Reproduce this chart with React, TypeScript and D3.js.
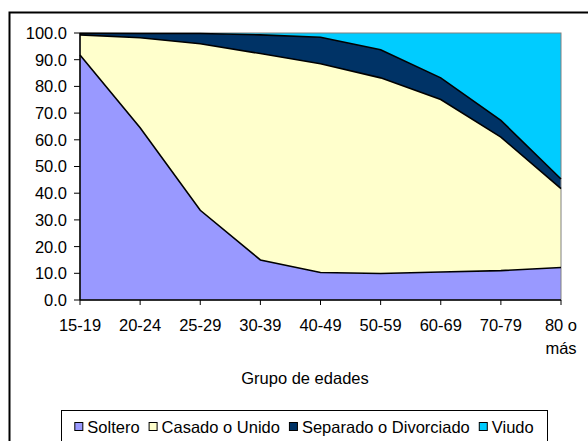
import React from "react";
import * as d3 from "d3";

const categories = ["15-19", "20-24", "25-29", "30-39", "40-49", "50-59", "60-69", "70-79", "80 o más"];
const soltero = [91.8, 64.5, 33.6, 15.0, 10.3, 9.9, 10.5, 11.0, 12.2];
const casado = [7.5, 33.7, 62.4, 77.3, 78.2, 73.3, 64.6, 50.0, 29.5];
const separado = [0.6, 1.6, 3.8, 7.0, 9.9, 10.5, 8.1, 6.3, 3.6];
const viudo = [0.1, 0.2, 0.2, 0.7, 1.6, 6.3, 16.8, 32.7, 54.7];
const seriesNames = ["Soltero", "Casado o Unido", "Separado o Divorciado", "Viudo"];
const seriesColors = ["#9999FF", "#FFFFCC", "#003366", "#00CCFF"];
const yTicks = [0, 10, 20, 30, 40, 50, 60, 70, 80, 90, 100];
const xTitle = "Grupo de edades";

const W = 588, H = 441;
const L = 80, R = 561, T = 33, B = 300;
const FONT = "'Liberation Sans', Arial, sans-serif";

export default function App() {
  const keys = ["s", "c", "p", "v"];
  const rows = categories.map((c, i) => ({ cat: c, s: soltero[i], c: casado[i], p: separado[i], v: viudo[i] }));
  const stack = d3.stack<any>().keys(keys)(rows);
  const x = d3.scalePoint<string>().domain(categories).range([L, R]).padding(0);
  const y = d3.scaleLinear().domain([0, 100]).range([B, T]);
  const area = d3.area<any>().x((d: any) => x(d.data.cat)!).y0((d: any) => y(d[0])).y1((d: any) => y(d[1]));
  const line = d3.line<any>().x((d: any) => x(d.data.cat)!).y((d: any) => y(d[1]));
  const fmt = d3.format(".1f");

  const fs = 16.5;
  const ctx = typeof document !== "undefined" ? document.createElement("canvas").getContext("2d") : null;
  if (ctx) ctx.font = `${fs}px ${FONT}`;
  const measure = (t: string) => (ctx ? ctx.measureText(t).width : t.length * 8);
  const sq = 8, gapSq = 5, gapItem = 9;
  const widths = seriesNames.map((n) => sq + gapSq + measure(n));
  const total = widths.reduce((a, b) => a + b, 0) + gapItem * (seriesNames.length - 1);
  const legL = 61, legR = 547;
  let cx = (legL + legR) / 2 - total / 2;
  const legendItems = seriesNames.map((n, i) => {
    const item = { x: cx, name: n, color: seriesColors[i] };
    cx += widths[i] + gapItem;
    return item;
  });

  return (
    <svg width={W} height={H} style={{ position: "absolute", left: 0, top: 0, background: "#fff" }} fontFamily={FONT}>
      <rect x={9.5} y={12.5} width={620} height={460} fill="#fff" stroke="#000" strokeWidth={2} />
      {stack.map((s, i) => (
        <path key={"a" + i} d={area(s as any)!} fill={seriesColors[i]} />
      ))}
      <rect x={L} y={T} width={R - L} height={B - T} fill="none" stroke="#808080" strokeWidth={1} />
      {stack.slice(0, 3).map((s, i) => (
        <path key={"l" + i} d={line(s as any)!} fill="none" stroke="#000" strokeWidth={1.6} />
      ))}
      <line x1={L} x2={L} y1={T} y2={B} stroke="#000" strokeWidth={1.5} />
      {yTicks.map((t) => (
        <g key={"y" + t}>
          <line x1={L - 6} x2={L} y1={y(t)} y2={y(t)} stroke="#000" strokeWidth={1} />
          <text x={67} y={y(t)} dy="0.36em" textAnchor="end" fontSize={fs} fill="#000">{fmt(t)}</text>
        </g>
      ))}
      <line x1={L} x2={R} y1={B} y2={B} stroke="#000" strokeWidth={1.5} />
      {categories.map((c) => {
        const parts = c === "80 o más" ? ["80 o", "más"] : [c];
        return (
          <g key={"x" + c}>
            <line x1={x(c)!} x2={x(c)!} y1={B} y2={B + 5} stroke="#000" strokeWidth={1} />
            {parts.map((p, j) => (
              <text key={j} x={x(c)!} y={331 + j * 23} textAnchor="middle" fontSize={fs} fill="#000">{p}</text>
            ))}
          </g>
        );
      })}
      <text x={305} y={384} textAnchor="middle" fontSize={fs} fill="#000">{xTitle}</text>
      <rect x={legL + 0.5} y={410.5} width={legR - legL} height={40} fill="#fff" stroke="#000" strokeWidth={1} />
      {legendItems.map((it) => (
        <g key={it.name}>
          <rect x={it.x + 0.5} y={422.5} width={sq} height={sq} fill={it.color} stroke="#000" strokeWidth={1} />
          <text x={it.x + sq + gapSq} y={432.5} fontSize={fs} fill="#000">{it.name}</text>
        </g>
      ))}
    </svg>
  );
}
